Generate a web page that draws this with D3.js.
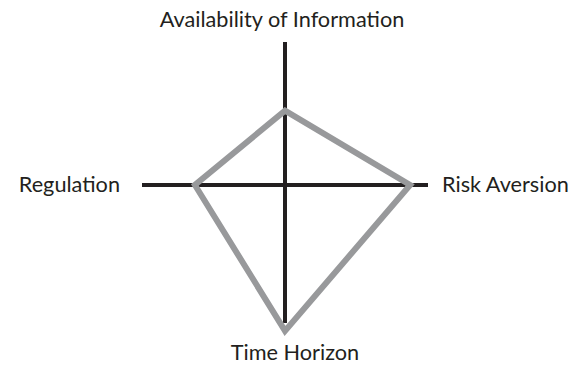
<!DOCTYPE html>
<html lang="en">
<head>
  <meta charset="UTF-8">
  <title>Kite</title>
  <script src="https://d3js.org/d3.v7.min.js"></script>
  <style>
    body { margin: 0; background: #fff; }
    text { font-family: Lato, sans-serif; fill: #231f20; }
  </style>
</head>
<body>
  <svg id="svg1" width="583" height="367"></svg>
  <script>
    // axes in clockwise order: top, right, bottom, left
    const axisNames = ["Availability of Information", "Risk Aversion", "Time Horizon", "Regulation"];
    const axisAngles = [-90, 0, 90, 180];
    const axisReach = [10, 10, 9.65, 10];
    const values = [5.2, 8.75, 10.2, 6.3];

    let svg1 = d3.select("svg#svg1");
    let cx = 285, cy = 185;

    const rScale = d3.scaleLinear().domain([0, 10]).range([0, 143]);

    let chartArea = svg1.append("g")
                        .attr("transform", `translate(${cx},${cy})`);

    const pt = (a, v) => {
      let rad = a * Math.PI / 180;
      return [rScale(v) * Math.cos(rad), rScale(v) * Math.sin(rad)];
    };

    // axes (cross)
    axisAngles.forEach((a, i) => {
      let p = pt(a, axisReach[i]);
      chartArea.append("line")
               .attr("x1", 0).attr("y1", 0)
               .attr("x2", p[0]).attr("y2", p[1])
               .attr("stroke", "#231f20")
               .attr("stroke-width", 4)
               .attr("stroke-linecap", "butt");
    });

    // polygon
    let lineGen = d3.line().curve(d3.curveLinearClosed);
    chartArea.append("path")
             .datum(values.map((v, i) => pt(axisAngles[i], v)))
             .attr("d", lineGen)
             .attr("fill", "none")
             .attr("stroke", "#98999b")
             .attr("stroke-width", 6)
             .attr("stroke-linejoin", "miter");

    // labels
    let labelPos = [
      {x: 282, y: 27, anchor: "middle"},
      {x: 442, y: 192, anchor: "start"},
      {x: 295, y: 360, anchor: "middle"},
      {x: 120, y: 192, anchor: "end"}
    ];
    axisNames.forEach((name, i) => {
      svg1.append("text")
          .attr("x", labelPos[i].x)
          .attr("y", labelPos[i].y)
          .attr("text-anchor", labelPos[i].anchor)
          .style("font-size", "21.7px")
          .text(name);
    });
  </script>
</body>
</html>
